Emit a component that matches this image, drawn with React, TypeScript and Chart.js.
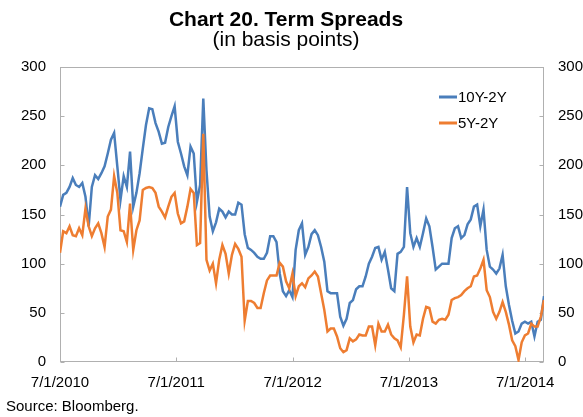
import React, { useEffect, useRef } from "react";
import { Chart, registerables } from "chart.js";

Chart.register(...registerables);

const TITLE = "Chart 20. Term Spreads";
const SUBTITLE = "(in basis points)";
const SOURCE = "Source: Bloomberg.";
const SERIES_NAMES = ["10Y-2Y", "5Y-2Y"];
const SERIES_COLORS = ["#4A7EBB", "#EE7D31"];

// observations every 10 days starting 7/1/2010 (x = days since 7/1/2010)
const STEP_DAYS = 10;

const spread10y2y = [
  158, 170, 172, 178, 187, 180, 178, 182, 168, 138,
  178, 190, 186, 192, 199, 212, 226, 233, 199, 165,
  189, 178, 214, 158, 172, 192, 217, 241, 258, 257,
  243, 234, 222, 223, 239, 250, 260, 224, 212, 199,
  190, 219, 212, 163, 180, 268, 195, 148, 133, 142,
  156, 153, 147, 153, 150, 150, 162, 160, 130, 116,
  114, 111, 107, 105, 105, 111, 128, 128, 122, 90,
  72, 67, 73, 66, 114, 134, 141, 109, 117, 130,
  134, 129, 117, 102, 72, 70, 70, 70, 46, 37,
  44, 60, 63, 74, 77, 77, 87, 100, 107, 116,
  117, 104, 112, 94, 75, 72, 110, 112, 117, 178,
  131, 117, 126, 117, 131, 146, 138, 117, 94, 97,
  100, 100, 100, 126, 136, 138, 126, 129, 140, 145,
  158, 160, 138, 155, 114, 97, 94, 90, 95, 109,
  77, 58, 42, 29, 31, 39, 41, 39, 41, 26,
  41, 43, 67,
];

const spread5y2y = [
  111, 133, 131, 138, 129, 128, 136, 129, 156, 138,
  128, 136, 141, 131, 117, 148, 155, 189, 172, 134,
  133, 122, 161, 114, 134, 144, 175, 177, 178, 177,
  172, 158, 153, 147, 158, 168, 172, 151, 141, 143,
  158, 176, 172, 119, 121, 232, 104, 93, 100, 80,
  104, 119, 110, 90, 109, 120, 115, 107, 42, 62,
  62, 60, 55, 55, 70, 83, 88, 88, 88, 101,
  97, 82, 75, 90, 67, 77, 80, 76, 85, 88,
  92, 87, 70, 53, 31, 34, 34, 26, 14, 10,
  12, 24, 21, 23, 28, 27, 27, 36, 36, 17,
  39, 31, 31, 38, 28, 24, 22, 15, 48, 87,
  36, 20, 28, 27, 44, 56, 55, 41, 39, 43,
  44, 43, 48, 63, 65, 66, 68, 72, 75, 77,
  87, 88, 95, 104, 73, 66, 51, 44, 51, 61,
  51, 38, 22, 16, 2, 20, 27, 29, 39, 36,
  36, 46, 63,
];

const xTickDays = [0, 365, 731, 1096, 1461];
const xTickLabels = ["7/1/2010", "7/1/2011", "7/1/2012", "7/1/2013", "7/1/2014"];
const yTickValues = [0, 50, 100, 150, 200, 250, 300];
const X_MIN_DAY = 0;
const X_MAX_DAY = 1520;
const Y_MIN = 0;
const Y_MAX = 300;

const FONT = "'Liberation Sans', Arial, Helvetica, sans-serif";
const FRAME_COLOR = "#B0B0B0";

const toPoints = (vals: number[]) => vals.map((v, i) => ({ x: i * STEP_DAYS, y: v }));

const decorPlugin = {
  id: "decor",
  beforeDatasetsDraw(chart: any) {
    const { ctx, chartArea, scales } = chart;
    const { left, right, top, bottom } = chartArea;
    ctx.save();
    ctx.strokeStyle = FRAME_COLOR;
    ctx.lineWidth = 1;
    const L = Math.round(left) + 0.5;
    const R = Math.round(right) - 0.5;
    const T = Math.round(top) + 0.5;
    const B = Math.round(bottom) - 0.5;
    ctx.strokeRect(L, T, R - L, B - T);
    ctx.beginPath();
    for (const v of yTickValues) {
      const y = Math.round(scales.y.getPixelForValue(v)) + 0.5;
      ctx.moveTo(L, y);
      ctx.lineTo(L + 4, y);
      ctx.moveTo(R - 4, y);
      ctx.lineTo(R, y);
    }
    for (const d of xTickDays) {
      const x = Math.round(scales.x.getPixelForValue(d)) + 0.5;
      ctx.moveTo(x, B);
      ctx.lineTo(x, B - 4);
    }
    ctx.stroke();
    ctx.restore();
  },
  afterDraw(chart: any) {
    const { ctx } = chart;
    ctx.save();
    ctx.fillStyle = "#000";
    ctx.textAlign = "center";
    ctx.textBaseline = "alphabetic";
    ctx.font = `bold 21px ${FONT}`;
    ctx.fillText(TITLE, 286, 26);
    ctx.font = `21px ${FONT}`;
    ctx.fillText(SUBTITLE, 286, 46);

    // legend
    ctx.font = `15px ${FONT}`;
    ctx.textAlign = "left";
    ctx.textBaseline = "middle";
    const legendY = [97, 123];
    SERIES_NAMES.forEach((name, i) => {
      ctx.strokeStyle = SERIES_COLORS[i];
      ctx.lineWidth = 3;
      ctx.beginPath();
      ctx.moveTo(439, legendY[i]);
      ctx.lineTo(457, legendY[i]);
      ctx.stroke();
      ctx.fillStyle = "#000";
      ctx.fillText(name, 458, legendY[i] + 1);
    });

    ctx.textBaseline = "alphabetic";
    ctx.fillText(SOURCE, 6, 411);
    ctx.restore();
  },
};

export default function App() {
  const canvasRef = useRef<HTMLCanvasElement | null>(null);

  useEffect(() => {
    const canvas = canvasRef.current;
    if (!canvas) return;
    const tickFont = { family: FONT, size: 15 };
    const noGrid = { display: false, drawTicks: false, drawOnChartArea: false };
    const chart = new Chart(canvas, {
      type: "line",
      data: {
        datasets: [
          {
            label: SERIES_NAMES[0],
            data: toPoints(spread10y2y),
            borderColor: SERIES_COLORS[0],
            backgroundColor: SERIES_COLORS[0],
            borderWidth: 2.5,
            pointRadius: 0,
            tension: 0,
            fill: false,
            order: 1,
          },
          {
            label: SERIES_NAMES[1],
            data: toPoints(spread5y2y),
            borderColor: SERIES_COLORS[1],
            backgroundColor: SERIES_COLORS[1],
            borderWidth: 2.5,
            pointRadius: 0,
            tension: 0,
            fill: false,
            order: 0,
          },
        ],
      },
      options: {
        animation: false,
        responsive: false,
        maintainAspectRatio: false,
        layout: { padding: { top: 67, left: 0, right: 0, bottom: 0 } },
        plugins: {
          legend: { display: false },
          tooltip: { enabled: false },
          title: { display: false },
        },
        scales: {
          x: {
            type: "linear",
            position: "bottom",
            min: X_MIN_DAY,
            max: X_MAX_DAY,
            afterBuildTicks: (s: any) => {
              s.ticks = xTickDays.map((v) => ({ value: v }));
            },
            afterFit: (s: any) => {
              s.height = 55;
            },
            grid: noGrid,
            border: { display: false },
            ticks: {
              autoSkip: false,
              maxRotation: 0,
              minRotation: 0,
              padding: 12,
              color: "#000",
              font: tickFont,
              callback: (v: any) => {
                const idx = xTickDays.indexOf(Number(v));
                return idx >= 0 ? xTickLabels[idx] : "";
              },
            },
          },
          y: {
            type: "linear",
            position: "left",
            min: Y_MIN,
            max: Y_MAX,
            afterFit: (s: any) => {
              s.width = 60;
            },
            grid: noGrid,
            border: { display: false },
            ticks: { stepSize: 50, padding: 14, color: "#000", font: tickFont },
          },
          y2: {
            type: "linear",
            position: "right",
            min: Y_MIN,
            max: Y_MAX,
            afterFit: (s: any) => {
              s.width = 39;
            },
            grid: noGrid,
            border: { display: false },
            ticks: { stepSize: 50, padding: 14, color: "#000", font: tickFont },
          },
        },
      },
      plugins: [decorPlugin],
    });
    return () => chart.destroy();
  }, []);

  return (
    <div
      style={{
        position: "absolute",
        left: 0,
        top: 0,
        width: 583,
        height: 417,
        overflow: "hidden",
        background: "#fff",
      }}
    >
      <canvas ref={canvasRef} width={583} height={417} style={{ width: 583, height: 417, display: "block" }} />
    </div>
  );
}
